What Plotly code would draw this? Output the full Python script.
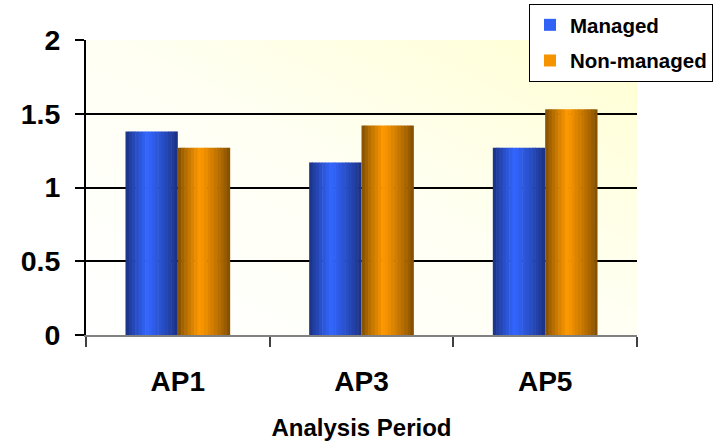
import base64
import plotly.graph_objects as go

categories = ["AP1", "AP3", "AP5"]
managed = [1.38, 1.17, 1.27]
non_managed = [1.27, 1.42, 1.53]
y_ticks = [0, 0.5, 1, 1.5, 2]
y_tick_labels = ["0", "0.5", "1", "1.5", "2"]

BAR_W = 0.285
N = 16
FONT = "Liberation Sans, Arial, sans-serif"

def mix(c1, c2, t):
    return "rgb(%d,%d,%d)" % tuple(round(a + (b - a) * t) for a, b in zip(c1, c2))

def profile(i, peak=0.42):
    u = (i + 0.5) / N
    if u <= peak:
        t = u / peak
    else:
        t = (1 - u) / (1 - peak)
    return max(0.0, min(1.0, t)) ** 0.8

series = [
    ("Managed", managed, -BAR_W, (26, 46, 122), (51, 102, 255)),
    ("Non-managed", non_managed, 0.0, (122, 74, 0), (255, 153, 0)),
]

fig = go.Figure()
LEG_I = int(N * 0.45)
for gi, (name, vals, base_off, dark, bright) in enumerate(series):
    sw = BAR_W / N
    for i in range(N):
        col = mix(dark, bright, profile(i))
        fig.add_trace(go.Bar(
            x=categories, y=vals, name=name,
            offset=base_off + i * sw, width=sw + (0.003 if i < N - 1 else 0),
            marker=dict(color=col, line=dict(width=0)),
            legendgroup=name, showlegend=(i == LEG_I),
            hoverinfo="skip" if i != LEG_I else None,
        ))

svg = (
    '<svg xmlns="http://www.w3.org/2000/svg" width="551" height="295" preserveAspectRatio="none">'
    '<defs><linearGradient id="g" x1="0" y1="1" x2="1" y2="0">'
    '<stop offset="0" stop-color="#ffffff"/>'
    '<stop offset="0.5" stop-color="#fffff4"/>'
    '<stop offset="1" stop-color="#ffffd2"/>'
    '</linearGradient></defs>'
    '<rect width="551" height="295" fill="url(#g)"/></svg>'
)
src = "data:image/svg+xml;base64," + base64.b64encode(svg.encode()).decode()

fig.update_layout(
    width=715, height=442,
    margin=dict(l=86, r=78, t=40, b=107, autoexpand=False),
    barmode="overlay",
    paper_bgcolor="white",
    plot_bgcolor="rgba(0,0,0,0)",
    font=dict(family=FONT, color="black"),
    images=[dict(source=src, xref="paper", yref="paper", x=0, y=1,
                 sizex=1, sizey=1, sizing="stretch", layer="below")],
    legend=dict(
        x=(529 - 86) / 551, y=(335 - 4) / 295, xanchor="left", yanchor="top",
        bgcolor="white", bordercolor="black", borderwidth=1,
        font=dict(size=20.5, family=FONT, weight="bold"),
        tracegroupgap=6, itemwidth=30,
    ),
    showlegend=True,
)
fig.update_xaxes(
    type="category", tickfont=dict(size=28, weight="bold"),
    showline=True, linecolor="#808080", linewidth=2,
    ticks="outside", tickson="boundaries", ticklen=10, tickcolor="#404040", tickwidth=2,
    title=dict(text="Analysis Period", font=dict(size=24, weight="bold"), standoff=24),
    showgrid=False, ticklabelstandoff=20,
)
fig.update_yaxes(
    range=[0, 2], tickvals=y_ticks, ticktext=y_tick_labels,
    tickfont=dict(size=28.5, weight="bold"),
    showline=True, linecolor="black", linewidth=2,
    ticks="outside", ticklen=9, tickcolor="black", tickwidth=2,
    showgrid=True, gridcolor="black", gridwidth=2,
    zeroline=False, ticklabelstandoff=9,
)
fig.write_html("out.html", config={"displayModeBar": False},
               post_script="document.body.style.margin='0';")
